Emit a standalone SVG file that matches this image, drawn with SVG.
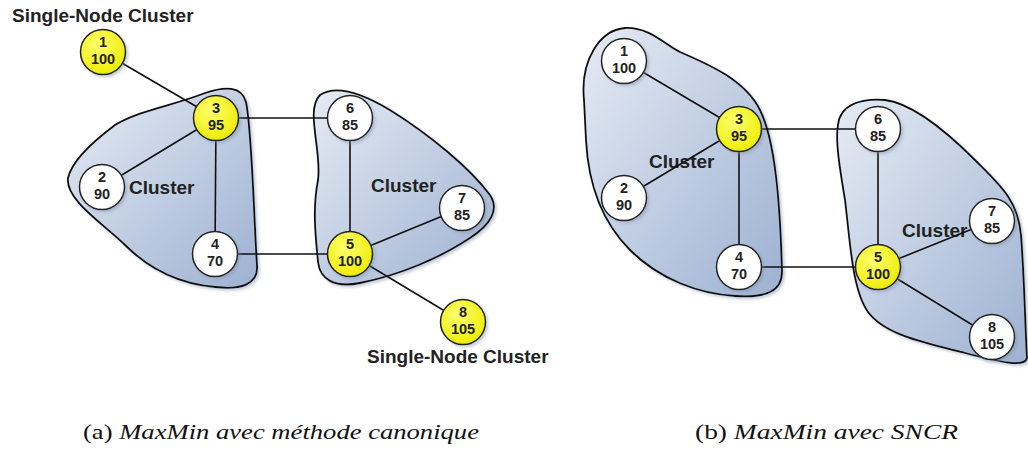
<svg xmlns="http://www.w3.org/2000/svg" width="1028" height="453" viewBox="0 0 1028 453">
<defs>
<linearGradient id="clg" x1="0" y1="0" x2="1" y2="1">
<stop offset="0" stop-color="#e6ebf4"/>
<stop offset="1" stop-color="#9db1d1"/>
</linearGradient>
<radialGradient id="ylg" cx="0.4" cy="0.35" r="0.7">
<stop offset="0" stop-color="#ffff70"/>
<stop offset="1" stop-color="#ecec00"/>
</radialGradient>
<filter id="sh" x="-20%" y="-20%" width="140%" height="140%">
<feDropShadow dx="2" dy="2" stdDeviation="1.5" flood-color="#7f8fa8" flood-opacity="0.45"/>
</filter>
</defs>
<style>
.cl{fill:url(#clg);stroke:#111;stroke-width:1.8;filter:url(#sh)}
.ed line{stroke:#111;stroke-width:1.6}
.n circle{stroke:#222;stroke-width:1.5;filter:url(#sh)}
.w circle{fill:#fff}
.y circle{fill:url(#ylg)}
.n text{font-family:"Liberation Sans",Arial,sans-serif;font-weight:bold;font-size:14.5px;fill:#222;text-anchor:middle}
.lb{font-family:"Liberation Sans",Arial,sans-serif;font-weight:bold;font-size:19px;fill:#222}
.cap{font-family:"Liberation Serif","Times New Roman",serif;font-size:21px;fill:#111}
</style>
<rect width="1028" height="453" fill="#fff"/>

<g id="clusters-a">
<path class="cl" d="M 68,178 C 72,160 95,140 115,125 C 140,110 175,105 205,93 C 225,86 242,86 246,102 C 252,130 254,220 257,265 C 259,285 240,290 215,287 C 180,284 150,270 125,245 C 105,225 65,200 68,178 Z"/>
<path class="cl" d="M 320,95 C 335,85 360,92 390,110 C 430,135 470,168 490,195 C 500,210 490,225 470,238 C 440,258 400,275 360,283 C 335,288 320,280 318,262 C 316,240 312,210 318,180 C 322,150 305,110 320,95 Z"/>
</g>
<g id="clusters-b">
<path class="cl" d="M 584,100 C 580,60 600,30 625,28 C 650,27 665,45 680,52 C 710,65 745,80 760,110 C 775,140 780,200 782,270 C 783,292 765,298 735,296 C 700,294 660,280 630,250 C 600,220 588,180 586,140 Z"/>
<path class="cl" d="M 838,125 C 840,105 860,98 885,100 C 910,103 940,125 975,160 C 1000,185 1018,200 1021,235 C 1024,270 1025,320 1027,358 C 1025,368 1000,362 965,353 C 925,343 885,335 868,312 C 852,290 850,240 845,200 C 840,170 835,140 838,125 Z"/>
</g>

<g id="labels-b">
<text class="lb" x="649" y="168">Cluster</text>
<text class="lb" x="902" y="237">Cluster</text>
</g>

<g id="connectors" class="ed">
<line x1="103" y1="52" x2="216" y2="118"/>
<line x1="102" y1="187" x2="216" y2="118"/>
<line x1="216" y1="118" x2="215" y2="254"/>
<line x1="216" y1="118" x2="350" y2="118"/>
<line x1="215" y1="254" x2="350" y2="254"/>
<line x1="350" y1="118" x2="350" y2="254"/>
<line x1="350" y1="254" x2="462" y2="208"/>
<line x1="350" y1="254" x2="463" y2="322"/>
<line x1="624" y1="61" x2="739" y2="129"/>
<line x1="624" y1="198" x2="739" y2="129"/>
<line x1="739" y1="129" x2="739" y2="267"/>
<line x1="739" y1="129" x2="878" y2="129"/>
<line x1="739" y1="267" x2="878" y2="267"/>
<line x1="878" y1="129" x2="878" y2="267"/>
<line x1="878" y1="267" x2="992" y2="221"/>
<line x1="878" y1="267" x2="992" y2="337"/>
</g>

<g id="labels-a">
<text class="lb" x="12" y="22">Single-Node Cluster</text>
<text class="lb" x="129" y="194">Cluster</text>
<text class="lb" x="371" y="192">Cluster</text>
<text class="lb" x="367" y="363">Single-Node Cluster</text>
</g>

<g id="a-n1" class="n y"><circle cx="103" cy="52" r="22.5"/><text x="103" y="47">1</text><text x="103" y="64">100</text></g>
<g id="a-n2" class="n w"><circle cx="102" cy="187" r="22.5"/><text x="102" y="182">2</text><text x="102" y="199">90</text></g>
<g id="a-n3" class="n y"><circle cx="216" cy="118" r="22.5"/><text x="216" y="113">3</text><text x="216" y="130">95</text></g>
<g id="a-n4" class="n w"><circle cx="215" cy="254" r="22.5"/><text x="215" y="249">4</text><text x="215" y="266">70</text></g>
<g id="a-n5" class="n y"><circle cx="350" cy="254" r="22.5"/><text x="350" y="249">5</text><text x="350" y="266">100</text></g>
<g id="a-n6" class="n w"><circle cx="350" cy="118" r="22.5"/><text x="350" y="113">6</text><text x="350" y="130">85</text></g>
<g id="a-n7" class="n w"><circle cx="462" cy="208" r="22.5"/><text x="462" y="203">7</text><text x="462" y="220">85</text></g>
<g id="a-n8" class="n y"><circle cx="463" cy="322" r="22.5"/><text x="463" y="317">8</text><text x="463" y="334">105</text></g>

<g id="b-n1" class="n w"><circle cx="624" cy="61" r="22.5"/><text x="624" y="56">1</text><text x="624" y="73">100</text></g>
<g id="b-n2" class="n w"><circle cx="624" cy="198" r="22.5"/><text x="624" y="193">2</text><text x="624" y="210">90</text></g>
<g id="b-n3" class="n y"><circle cx="739" cy="129" r="22.5"/><text x="739" y="124">3</text><text x="739" y="141">95</text></g>
<g id="b-n4" class="n w"><circle cx="739" cy="267" r="22.5"/><text x="739" y="262">4</text><text x="739" y="279">70</text></g>
<g id="b-n5" class="n y"><circle cx="878" cy="267" r="22.5"/><text x="878" y="262">5</text><text x="878" y="279">100</text></g>
<g id="b-n6" class="n w"><circle cx="878" cy="129" r="22.5"/><text x="878" y="124">6</text><text x="878" y="141">85</text></g>
<g id="b-n7" class="n w"><circle cx="992" cy="221" r="22.5"/><text x="992" y="216">7</text><text x="992" y="233">85</text></g>
<g id="b-n8" class="n w"><circle cx="992" cy="337" r="22.5"/><text x="992" y="332">8</text><text x="992" y="349">105</text></g>

<g id="captions">
<text class="cap" x="83" y="439" textLength="396" lengthAdjust="spacingAndGlyphs">(a)  <tspan font-style="italic">MaxMin avec méthode canonique</tspan></text>
<text class="cap" x="695" y="439" textLength="263" lengthAdjust="spacingAndGlyphs">(b)  <tspan font-style="italic">MaxMin avec SNCR</tspan></text>
</g>
</svg>
